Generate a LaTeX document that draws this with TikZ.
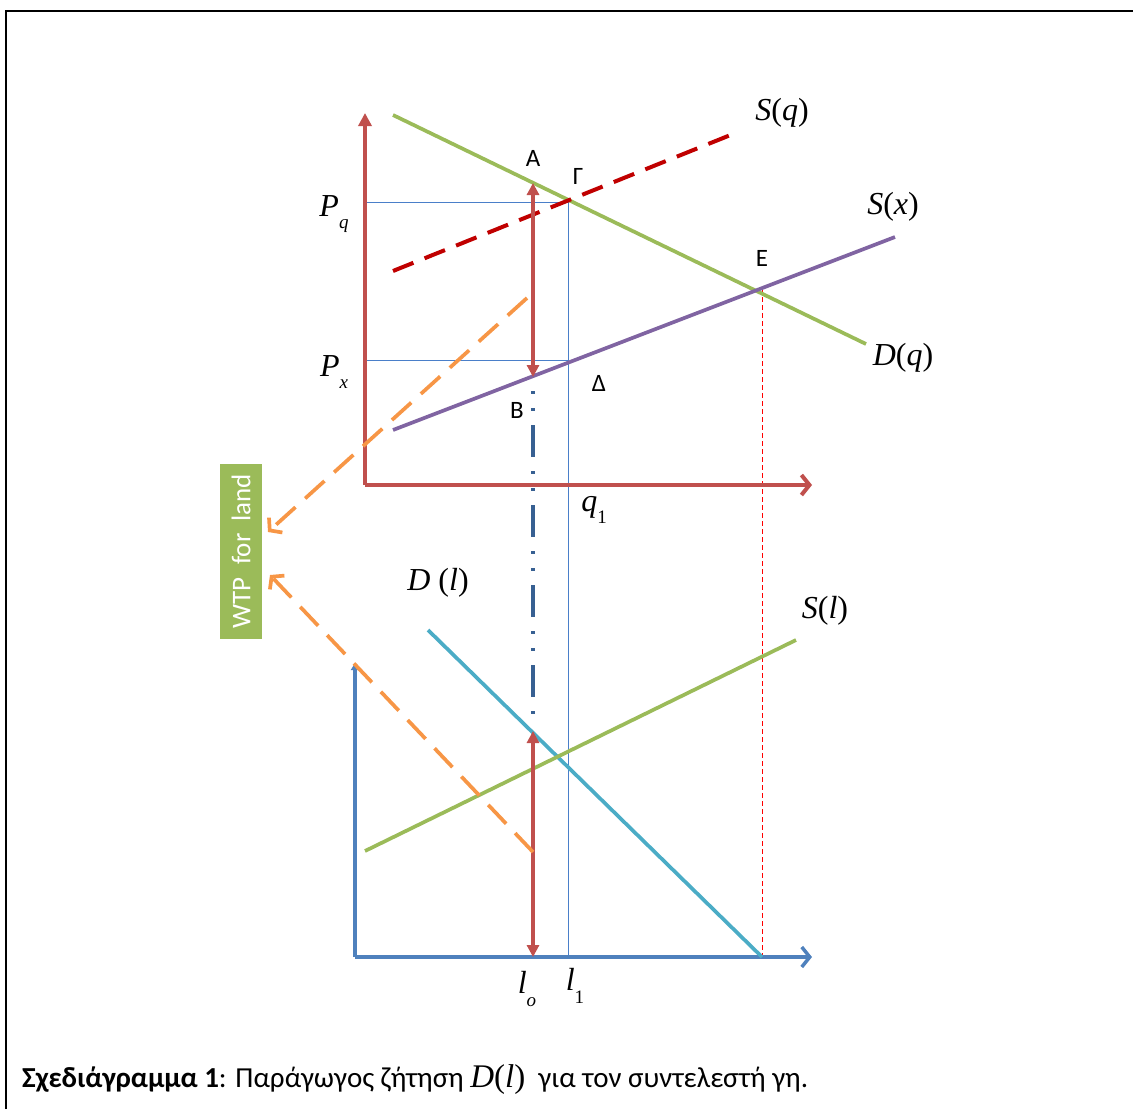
\documentclass[tikz,border=0pt]{standalone}
\usepackage{fontspec}
\setmainfont{Carlito}
\newfontfamily\tms{Liberation Serif}
\usetikzlibrary{arrows.meta,shadows}

\definecolor{gAxisQ}{HTML}{C0504D}
\definecolor{gAxisL}{HTML}{4F81BD}
\definecolor{gGuide}{HTML}{4A7FC9}
\definecolor{gDemQ}{HTML}{9BBB59}
\definecolor{gSupQ}{HTML}{C00000}
\definecolor{gSupX}{HTML}{8064A2}
\definecolor{gDemL}{HTML}{4BACC6}
\definecolor{gOrange}{HTML}{F79646}
\definecolor{gDashDot}{HTML}{376092}
\definecolor{gMark}{HTML}{FF0000}
\newcommand{\vit}[1]{{\tms\itshape #1}}
\newcommand{\vsub}[1]{\raisebox{-.4em}{\fontsize{19}{19}\selectfont #1}}

\begin{document}
\begin{tikzpicture}[
  x=1pt, y=-1pt,
  qaxis/.style={gAxisQ, line width=4pt},
  laxis/.style={gAxisL, line width=3.5pt},
  curve/.style={line width=3.7pt},
  guide/.style={gGuide, line width=1pt},
  gap/.style={gAxisQ, line width=4pt, {Triangle[length=12pt,width=12pt]}-{Triangle[length=12pt,width=12pt]}},
  wtparrow/.style={gOrange, line width=3.7pt, dash pattern=on 26pt off 13pt,
    -{Straight Barb[length=8pt,width=20pt]}},
  ptlab/.style={font=\fontsize{25}{25}\selectfont},
  mathlab/.style={font=\tms\fontsize{32}{32}\selectfont},
  wtpbox/.style={fill=gDemQ, draw=white, line width=2pt, text=white, rotate=90,
    minimum width=177pt, minimum height=44pt, inner sep=0pt,
    font=\fontsize{27}{27}\selectfont,
    drop shadow={opacity=.3, shadow xshift=-1.5pt, shadow yshift=-1.5pt}},
]
\useasboundingbox (0,0) rectangle (1133,1109);
% ---- frame ---------------------------------------------------------------
\draw[line width=1.5pt] (6,1109) -- (6,11) -- (1133,11);

% ---- key points ----------------------------------------------------------
\coordinate (oq) at (365,485);
\coordinate (ol) at (355,957);
\coordinate (A) at (533,183);
\coordinate (B) at (533,377);
\coordinate (G) at (568,202);
\coordinate (Dl) at (568,360);
\coordinate (E) at (762,289);
\coordinate (Pq) at (365,202);
\coordinate (Px) at (365,360);
\coordinate (l0) at (533,957);
\coordinate (l1) at (568,957);
\coordinate (Etop) at (762,957);
\coordinate (dlcut) at (533,731);

% ---- guide lines ---------------------------------------------------------
\draw[guide] (Pq) -- (G) -- (l1);
\draw[guide] (Px) -- (Dl);
\draw[gMark, line width=1pt, dash pattern=on 5pt off 3pt] (E) -- (Etop);

% ---- upper panel: product market -----------------------------------------
\draw[qaxis, -{Triangle[length=13pt,width=13pt]}] (oq) -- (365,113);
\draw[qaxis, -{Straight Barb[length=8pt,width=20pt]}] (oq) -- (812,485);
\coordinate (dq1) at (393,115);  \coordinate (dq2) at (866,344);
\coordinate (sq1) at (393,271);  \coordinate (sq2) at (738,132);
\coordinate (sx1) at (393,430);  \coordinate (sx2) at (895,237);
\draw[curve, gDemQ] (dq1) -- (dq2);
\draw[curve, gSupQ, line width=4pt, dash pattern=on 22pt off 12pt] (sq1) -- (sq2);
\draw[curve, gSupX] (sx1) -- (sx2);

% ---- lower panel: land market --------------------------------------------
\draw[laxis, -{Triangle[length=7pt,width=8pt]}] (ol) -- (355,663);
\draw[laxis, -{Straight Barb[length=8pt,width=20pt]}] (ol) -- (812,957);
\coordinate (dl1) at (428,630);  \coordinate (dl2) at (762,957);
\coordinate (sl1) at (365,851);  \coordinate (sl2) at (796,640);
\draw[curve, gDemL] (dl1) -- (dl2);
\draw[curve, gDemQ] (sl1) -- (sl2);

% ---- rent gap and its transfer -------------------------------------------
\draw[gDashDot, line width=4pt,
  dash pattern=on 3pt off 14pt on 3pt off 14pt on 32pt off 14pt] (533,391) -- (533,716);
\draw[gap] (A) -- (B);
\draw[gap] (dlcut) -- (l0);

\node[wtpbox] (wtp) at (241,551) {WTP\ \ for\ \ land};
\coordinate (wq) at (527,298);
\coordinate (wl) at (533,852);
\draw[wtparrow] (wq) -- (268,532);
\draw[wtparrow] (wl) -- (270,575);

% ---- labels --------------------------------------------------------------
\node[ptlab] (labA) at (533,158) {Α};
\node[ptlab] (labG) at (578,176) {Γ};
\node[ptlab] (labE) at (762,258) {Ε};
\node[ptlab] (labD) at (599,383) {Δ};
\node[ptlab] (labB) at (517,410) {Β};
\node[mathlab] (labPq) at (334,214) {\vit{P}\vsub{\vit{q}}};
\node[mathlab] (labPx) at (334,372) {\vit{P}\vsub{\vit{x}}};
\node[mathlab] (labq1) at (594,510) {\vit{q}\vsub{1}};
\node[mathlab] (labSq) at (782,113) {\vit{S}(\vit{q})};
\node[mathlab] (labSx) at (893,207) {\vit{S}(\vit{x})};
\node[mathlab] (labDq) at (903,358) {\vit{D}(\vit{q})};
\node[mathlab] (labDl) at (438,583) {\vit{D}\ (\vit{l})};
\node[mathlab] (labSl) at (825,611) {\vit{S}(\vit{l})};
\node[mathlab] (labl0) at (527,989) {\vit{l}\vsub{\vit{o}}};
\node[mathlab] (labl1) at (575,986) {\vit{l}\vsub{1}};

% ---- caption -------------------------------------------------------------
\node[anchor=base west, inner sep=0pt, font=\fontsize{29}{29}\selectfont] (cap) at (22,1087)
  {\textbf{Σχεδιάγραμμα 1}: Παράγωγος ζήτηση {\tms\fontsize{33}{33}\selectfont\itshape D\/\upshape(\itshape l\/\upshape)}\ \ για τον συντελεστή γη.};
\end{tikzpicture}
\end{document}
